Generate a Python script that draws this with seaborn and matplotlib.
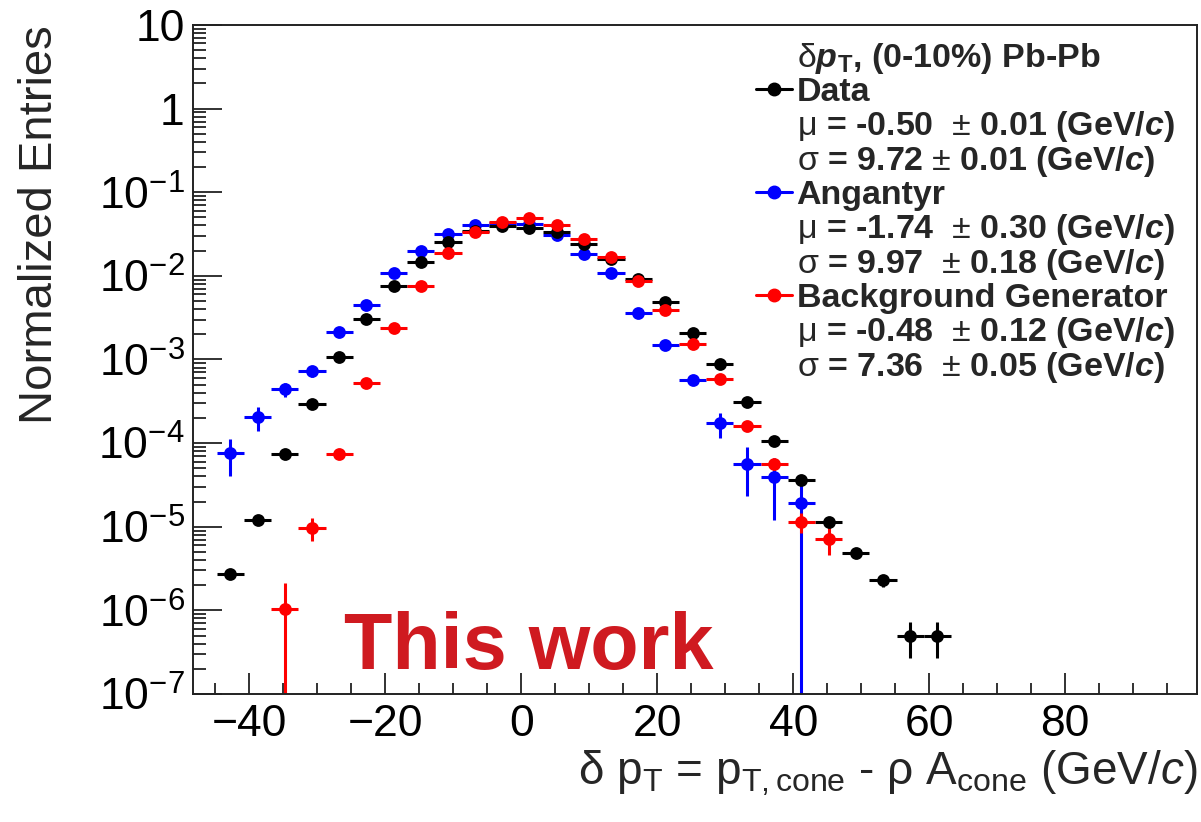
import matplotlib
matplotlib.use('Agg')
import matplotlib.pyplot as plt
from matplotlib.lines import Line2D
from matplotlib.ticker import MultipleLocator, LogLocator, FixedLocator, FixedFormatter, NullFormatter
import seaborn as sns
import pandas as pd
import numpy as np

# bin centres (GeV/c), 4 GeV/c bins
bin_centers = [-42.8, -38.8, -34.8, -30.8, -26.8, -22.8, -18.8, -14.8, -10.8, -6.8, -2.8,
               1.2, 5.2, 9.2, 13.2, 17.2, 21.2, 25.2, 29.2, 33.2, 37.2, 41.2, 45.2,
               49.2, 53.2, 57.2, 61.2]
half_bin = 2.0

# Data: all 27 bins
data_y = [2.73e-6, 1.19e-5, 7.4e-5, 2.94e-4, 1.07e-3, 3.02e-3, 7.6e-3, 1.45e-2, 2.51e-2,
          3.47e-2, 3.98e-2, 3.7e-2, 3.31e-2, 2.4e-2, 1.58e-2, 9.1e-3, 4.88e-3, 2.09e-3,
          8.8e-4, 3.1e-4, 1.05e-4, 3.63e-5, 1.15e-5, 4.86e-6, 2.28e-6, 5.0e-7, 5.0e-7]
data_err = [2e-7, 6e-7, 2e-6, 5e-6, 1e-5, 2e-5, 3e-5, 4e-5, 5e-5, 6e-5, 6e-5, 6e-5, 6e-5,
            5e-5, 4e-5, 3e-5, 2e-5, 1.5e-5, 1e-5, 6e-6, 3e-6, 2e-6, 1e-6, 6e-7, 4e-7,
            2.3e-7, 2.3e-7]

# Angantyr: first 22 bins
ang_y = [7.6e-5, 2.05e-4, 4.4e-4, 7.2e-4, 2.15e-3, 4.5e-3, 1.07e-2, 2.0e-2, 3.15e-2, 4.1e-2,
         4.3e-2, 4.17e-2, 3.1e-2, 1.8e-2, 1.07e-2, 3.63e-3, 1.47e-3, 5.74e-4, 1.73e-4,
         5.6e-5, 3.9e-5, 1.9e-5]
ang_err = [3.6e-5, 6.5e-5, 8e-5, 1e-4, 2e-4, 3e-4, 5e-4, 7e-4, 9e-4, 1e-3, 1e-3, 1e-3,
           9e-4, 7e-4, 5e-4, 3e-4, 1.5e-4, 8e-5, 5.7e-5, 3.3e-5, 2.7e-5, 2.0e-5]

# Background generator: bins 3..23
bkg_x = bin_centers[2:23]
bkg_y = [1.05e-6, 9.7e-6, 7.4e-5, 5.2e-4, 2.36e-3, 7.6e-3, 1.89e-2, 3.31e-2, 4.44e-2,
         4.91e-2, 4.08e-2, 2.75e-2, 1.7e-2, 8.7e-3, 3.89e-3, 1.55e-3, 5.85e-4, 1.58e-4,
         5.58e-5, 1.15e-5, 7.2e-6]
bkg_err = [1.07e-6, 3e-6, 1e-5, 4e-5, 1.2e-4, 2.5e-4, 4e-4, 5e-4, 6e-4, 6e-4, 5e-4, 4e-4,
           3e-4, 2e-4, 1.2e-4, 6e-5, 3e-5, 1.5e-5, 8e-6, 3e-6, 2.6e-6]

samples = ['Data', 'Angantyr', 'Background Generator']
colors = {'Data': 'black', 'Angantyr': '#0000ff', 'Background Generator': '#ff0000'}
fit_lines = {
    'Data': [r'$\mathrm{\mu}$ = -0.50  $\mathrm{\pm}$ 0.01 (GeV/$\mathbfit{c}$)',
             r'$\mathrm{\sigma}$ = 9.72 $\mathrm{\pm}$ 0.01 (GeV/$\mathbfit{c}$)'],
    'Angantyr': [r'$\mathrm{\mu}$ = -1.74  $\mathrm{\pm}$ 0.30 (GeV/$\mathbfit{c}$)',
                 r'$\mathrm{\sigma}$ = 9.97  $\mathrm{\pm}$ 0.18 (GeV/$\mathbfit{c}$)'],
    'Background Generator': [r'$\mathrm{\mu}$ = -0.48  $\mathrm{\pm}$ 0.12 (GeV/$\mathbfit{c}$)',
                             r'$\mathrm{\sigma}$ = 7.36  $\mathrm{\pm}$ 0.05 (GeV/$\mathbfit{c}$)'],
}

ytick_vals = [1e-7, 1e-6, 1e-5, 1e-4, 1e-3, 1e-2, 1e-1, 1, 10]
ytick_labels = [r'$10^{-7}$', r'$10^{-6}$', r'$10^{-5}$', r'$10^{-4}$', r'$10^{-3}$',
                r'$10^{-2}$', r'$10^{-1}$', '1', '10']

df = pd.concat([
    pd.DataFrame({'dpt': bin_centers, 'entries': data_y, 'err': data_err, 'sample': 'Data'}),
    pd.DataFrame({'dpt': bin_centers[:22], 'entries': ang_y, 'err': ang_err, 'sample': 'Angantyr'}),
    pd.DataFrame({'dpt': bkg_x, 'entries': bkg_y, 'err': bkg_err, 'sample': 'Background Generator'}),
], ignore_index=True)

sns.set_theme(style='ticks')
plt.rcParams['font.family'] = ['Liberation Sans', 'DejaVu Sans']
plt.rcParams['mathtext.fontset'] = 'custom'
plt.rcParams['mathtext.rm'] = 'Liberation Sans'
plt.rcParams['mathtext.it'] = 'Liberation Sans:italic'
plt.rcParams['mathtext.bf'] = 'Liberation Sans:bold'
plt.rcParams['mathtext.bfit'] = 'Liberation Sans:italic:bold'
plt.rcParams['axes.unicode_minus'] = True

fig = plt.figure(figsize=(12.01, 8.22), dpi=100)
ax = fig.add_axes([0.1607, 0.1557, 0.836, 0.814])

for name in ['Angantyr', 'Data', 'Background Generator']:
    sub = df[df['sample'] == name]
    ax.errorbar(sub.dpt, sub.entries, xerr=half_bin, yerr=sub.err, fmt='none',
                ecolor=colors[name], elinewidth=2.2, capsize=0, zorder=2)
    sns.scatterplot(x=sub.dpt.values, y=sub.entries.values, color=colors[name], s=85,
                    linewidth=0, ax=ax, zorder=3)

ax.set_yscale('log')
ax.set_xlim(-48.3, 99.4)
ax.set_ylim(1e-7, 10)

ax.xaxis.set_major_locator(MultipleLocator(20))
ax.xaxis.set_minor_locator(MultipleLocator(5))
ax.yaxis.set_major_locator(FixedLocator(ytick_vals))
ax.yaxis.set_major_formatter(FixedFormatter(ytick_labels))
ax.yaxis.set_minor_locator(LogLocator(base=10, subs=np.arange(2, 10), numticks=100))
ax.yaxis.set_minor_formatter(NullFormatter())

ax.tick_params(axis='both', which='both', direction='in', width=1.3, colors='#222222',
               labelcolor='black', labelsize=32, top=False, right=False)
ax.tick_params(axis='x', which='major', length=15, pad=7)
ax.tick_params(axis='x', which='minor', length=8)
ax.tick_params(axis='y', which='major', length=21, pad=6)
ax.tick_params(axis='y', which='minor', length=9.5)
for sp in ax.spines.values():
    sp.set_visible(True)
    sp.set_linewidth(1.4)
    sp.set_color('#222222')

ax.set_xlabel(r'δ p$_{\mathrm{T}}$ = p$_{\mathrm{T,cone}}$ - ρ A$_{\mathrm{cone}}$ (GeV/$\mathit{c}$)',
              fontsize=33, loc='right', labelpad=3)
ax.set_ylabel('Normalized Entries', fontsize=34, loc='top', labelpad=26)

# legend with fit results
handles, labels = [], []
blank = Line2D([], [], linestyle='none', marker=None)
handles.append(blank)
labels.append(r'$\mathrm{\delta}\mathbfit{p}_{\mathbf{T}}$, (0-10%) Pb-Pb')
for name in samples:
    handles.append(Line2D([], [], color=colors[name], marker='o', markersize=9, lw=2.2))
    labels.append(name)
    for line in fit_lines[name]:
        handles.append(blank)
        labels.append(line)
leg = ax.legend(handles, labels, loc='upper left', bbox_to_anchor=(0.547, 0.996),
                frameon=False, handlelength=1.05, handletextpad=0.15, labelspacing=0.02,
                borderaxespad=0, prop={'family': 'Liberation Sans', 'weight': 'bold', 'size': 24.5})

ax.text(0.15, 0.038, 'This work', transform=ax.transAxes, fontsize=57, fontweight='bold',
        color='#cf1a20', ha='left', va='baseline')

fig.savefig('out.png', dpi=100)
